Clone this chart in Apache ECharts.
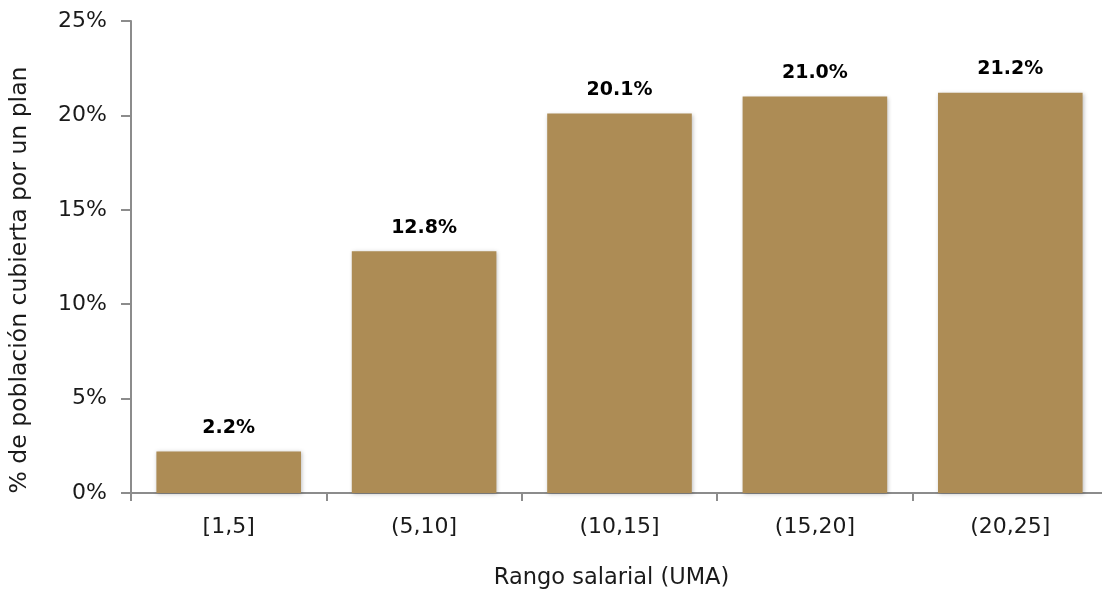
<!DOCTYPE html>
<html>
<head>
<meta charset="utf-8">
<script src="https://cdn.jsdelivr.net/npm/echarts@6/dist/echarts.min.js"></script>
<style>html,body{margin:0;padding:0;background:#fff}#c{width:1102px;height:593px}</style>
</head>
<body>
<div id="c"></div>
<script>
const categories = ["[1,5]", "(5,10]", "(10,15]", "(15,20]", "(20,25]"];
const values = [2.2, 12.8, 20.1, 21.0, 21.2];
const yTicks = [0, 5, 10, 15, 20, 25];
const xTitle = "Rango salarial (UMA)";
const yTitle = "% de población cubierta por un plan";

const FONT = "DejaVu Sans";
const chart = echarts.init(document.getElementById('c'), null, {renderer: 'canvas'});
chart.setOption({
  animation: false,
  grid: {left: 131, top: 21, right: -6, bottom: 100, containLabel: false, outerBoundsMode: 'none'},
  xAxis: {
    type: 'category',
    data: categories,
    axisLine: {lineStyle: {color: '#8c8c8c', width: 2}},
    axisTick: {show: true, length: 8, alignWithLabel: false, lineStyle: {color: '#8c8c8c', width: 2}},
    axisLabel: {color: '#1a1a1a', fontSize: 22, fontFamily: FONT, margin: 23},
    name: xTitle,
    nameLocation: 'middle',
    nameGap: 74,
    nameTextStyle: {color: '#1a1a1a', fontSize: 22.5, fontFamily: FONT, padding: [0, 16, 0, 0]}
  },
  yAxis: {
    type: 'value',
    min: yTicks[0],
    max: yTicks[yTicks.length - 1],
    interval: 5,
    splitLine: {show: false},
    axisLine: {show: true, lineStyle: {color: '#8c8c8c', width: 2}},
    axisTick: {show: true, length: 10, lineStyle: {color: '#8c8c8c', width: 2}},
    axisLabel: {color: '#1a1a1a', fontSize: 22, fontFamily: FONT, margin: 24, formatter: v => v + '%'},
    name: yTitle,
    nameLocation: 'middle',
    nameGap: 99,
    nameRotate: 90,
    nameTextStyle: {color: '#1a1a1a', fontSize: 23.5, fontFamily: FONT, padding: [0, 0, 0, -46]}
  },
  series: [{
    type: 'bar',
    data: values,
    barCategoryGap: '26%',
    itemStyle: {color: '#AD8C55', shadowColor: 'rgba(0,0,0,0.25)', shadowBlur: 4, shadowOffsetX: 1, shadowOffsetY: 1},
    label: {
      show: true, position: 'top', distance: 14,
      formatter: p => p.value.toFixed(1) + '%',
      color: '#000', fontSize: 19, fontWeight: 'bold', fontFamily: FONT
    }
  }]
});
</script>
</body>
</html>
